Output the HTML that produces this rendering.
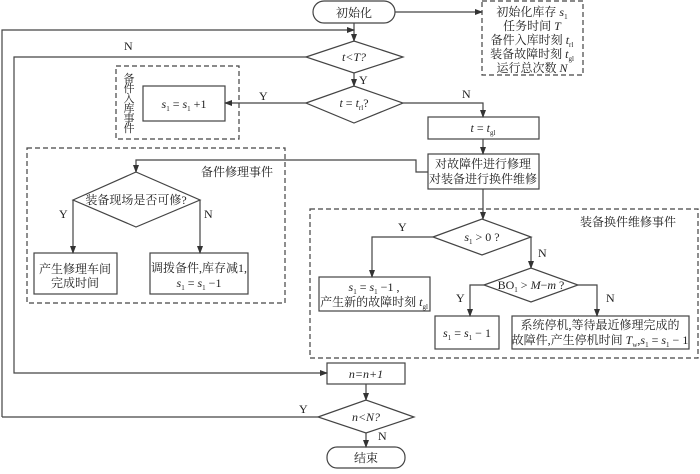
<!DOCTYPE html>
<html><head><meta charset="utf-8"><style>
body{margin:0;background:#fff}
svg text{font-family:"Liberation Serif","Noto Serif CJK SC",serif;font-size:12px;fill:#222}
.i{font-style:italic}
.s{font-size:7px}
.v{font-size:11px}
</style></head><body>
<svg width="700" height="469" viewBox="0 0 700 469" xmlns="http://www.w3.org/2000/svg">
<defs><marker id="a" markerWidth="8" markerHeight="6" refX="7" refY="3" orient="auto" markerUnits="userSpaceOnUse"><path d="M0,0L8,3L0,6z" fill="#333"/></marker></defs>
<g fill="none" stroke="#444" stroke-width="1.2">
<g stroke-dasharray="5,3">
<rect x="482" y="1" width="101" height="74"/>
<rect x="116" y="66" width="123" height="73"/>
<rect x="27" y="148" width="258" height="155"/>
<rect x="310" y="209" width="388" height="149"/>
</g>
<rect x="313" y="1" width="82" height="22" rx="11"/>
<rect x="327" y="447" width="78" height="21" rx="10"/>
<polygon points="306,57 354,41 403,57 354,73"/>
<polygon points="306,103 354,86 403,103 354,123"/>
<rect x="143" y="86" width="82" height="35"/>
<rect x="428" y="117" width="111" height="22"/>
<rect x="428" y="154" width="111" height="35"/>
<polygon points="73,200 136,172 200,200 136,227"/>
<rect x="34" y="253" width="83" height="41"/>
<rect x="150" y="253" width="98" height="41"/>
<polygon points="433,237 482,219 531,237 482,255"/>
<rect x="319" y="277" width="111" height="34"/>
<polygon points="484,285 531,268 578,285 531,302"/>
<rect x="435" y="316" width="64" height="33"/>
<rect x="512" y="316" width="177" height="33"/>
<rect x="327" y="363" width="78" height="21"/>
<polygon points="318,417 366,400 414,417 366,433"/>
<path d="M395,12H482" marker-end="url(#a)"/>
<path d="M354,23V41" marker-end="url(#a)"/>
<path d="M2,417V30H354" marker-end="url(#a)"/>
<path d="M318,417H2"/>
<path d="M354,73V86" marker-end="url(#a)"/>
<path d="M306,57H14V373H327" marker-end="url(#a)"/>
<path d="M306,103H225" marker-end="url(#a)"/>
<path d="M403,103H483V117" marker-end="url(#a)"/>
<path d="M483,139V154" marker-end="url(#a)"/>
<path d="M428,172H416V160H136V172" marker-end="url(#a)"/>
<path d="M73,200V253" marker-end="url(#a)"/>
<path d="M200,200V253" marker-end="url(#a)"/>
<path d="M483,189V219" marker-end="url(#a)"/>
<path d="M433,237H372V277" marker-end="url(#a)"/>
<path d="M531,237V268" marker-end="url(#a)"/>
<path d="M484,285H470V316" marker-end="url(#a)"/>
<path d="M578,285H597V316" marker-end="url(#a)"/>
<path d="M366,384V400" marker-end="url(#a)"/>
<path d="M366,433V447" marker-end="url(#a)"/>
</g>
<g text-anchor="middle">
<text x="354" y="17">初始化</text>
<text x="532" y="16">初始化库存 <tspan class="i">s</tspan><tspan class="s" baseline-shift="-3">1</tspan></text>
<text x="532" y="30">任务时间 <tspan class="i">T</tspan></text>
<text x="532" y="44">备件入库时刻 <tspan class="i">t</tspan><tspan class="s" baseline-shift="-3">rl</tspan></text>
<text x="532" y="58">装备故障时刻 <tspan class="i">t</tspan><tspan class="s" baseline-shift="-3">gl</tspan></text>
<text x="532" y="72">运行总次数 <tspan class="i">N</tspan></text>
<text x="354" y="61" class="i">t&lt;T?</text>
<text x="354" y="107"><tspan class="i">t</tspan> = <tspan class="i">t</tspan><tspan class="s" baseline-shift="-3">rl</tspan>?</text>
<text x="483" y="132"><tspan class="i">t</tspan> = <tspan class="i">t</tspan><tspan class="s" baseline-shift="-3">gl</tspan></text>
<text x="483" y="168">对故障件进行修理</text>
<text x="483" y="183">对装备进行换件维修</text>
<text x="184" y="108"><tspan class="i">s</tspan><tspan class="s" baseline-shift="-3">1</tspan> = <tspan class="i">s</tspan><tspan class="s" baseline-shift="-3">1</tspan> +1</text>
<text class="v" x="129" y="82">备</text><text class="v" x="129" y="92">件</text><text class="v" x="129" y="102">入</text><text class="v" x="129" y="112">库</text><text class="v" x="129" y="122">事</text><text class="v" x="129" y="132">件</text>
<text x="237" y="176">备件修理事件</text>
<text x="136" y="204">装备现场是否可修?</text>
<text x="75" y="273">产生修理车间</text>
<text x="75" y="287">完成时间</text>
<text x="199" y="272">调拨备件,库存减1,</text>
<text x="199" y="287"><tspan class="i">s</tspan><tspan class="s" baseline-shift="-3">1</tspan> = <tspan class="i">s</tspan><tspan class="s" baseline-shift="-3">1</tspan> −1</text>
<text x="628" y="226">装备换件维修事件</text>
<text x="482" y="241"><tspan class="i">s</tspan><tspan class="s" baseline-shift="-3">1</tspan> &gt; 0 ?</text>
<text x="531" y="289">BO<tspan class="s" baseline-shift="-3">1</tspan> &gt; <tspan class="i">M</tspan>−<tspan class="i">m</tspan> ?</text>
<text x="374" y="291"><tspan class="i">s</tspan><tspan class="s" baseline-shift="-3">1</tspan> = <tspan class="i">s</tspan><tspan class="s" baseline-shift="-3">1</tspan> −1 ,</text>
<text x="374" y="306">产生新的故障时刻 <tspan class="i">t</tspan><tspan class="s" baseline-shift="-3">gl</tspan></text>
<text x="467" y="337"><tspan class="i">s</tspan><tspan class="s" baseline-shift="-3">1</tspan> = <tspan class="i">s</tspan><tspan class="s" baseline-shift="-3">1</tspan> − 1</text>
<text x="600" y="329">系统停机,等待最近修理完成的</text>
<text x="600" y="344">故障件,产生停机时间 <tspan class="i">T</tspan><tspan class="s" baseline-shift="-3">w</tspan>,<tspan class="i">s</tspan><tspan class="s" baseline-shift="-3">1</tspan> = <tspan class="i">s</tspan><tspan class="s" baseline-shift="-3">1</tspan> − 1</text>
<text x="366" y="378" class="i">n=n+1</text>
<text x="366" y="421" class="i">n&lt;N?</text>
<text x="366" y="462">结束</text>
</g>
<g>
<text x="124" y="50">N</text>
<text x="359" y="84">Y</text>
<text x="259" y="100">Y</text>
<text x="462" y="98">N</text>
<text x="59" y="218">Y</text>
<text x="204" y="218">N</text>
<text x="398" y="231">Y</text>
<text x="538" y="257">N</text>
<text x="456" y="302">Y</text>
<text x="606" y="302">N</text>
<text x="299" y="413">Y</text>
<text x="378" y="440">N</text>
</g>
</svg>
</body></html>
